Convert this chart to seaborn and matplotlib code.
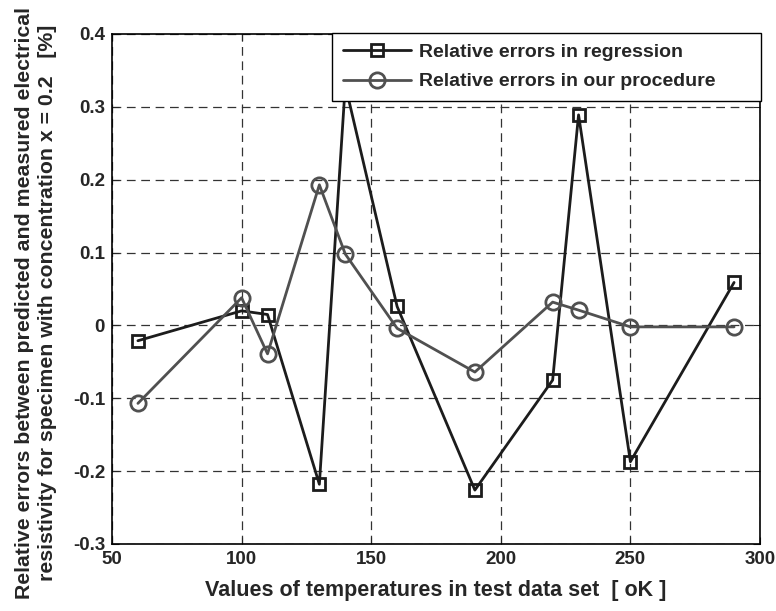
import matplotlib
matplotlib.use("Agg")
import matplotlib.pyplot as plt
import seaborn as sns
import pandas as pd

temps_reg = [60, 100, 110, 130, 140, 160, 190, 220, 230, 250, 290]
err_reg = [-0.021, 0.020, 0.015, -0.218, 0.33, 0.026, -0.226, -0.075, 0.289, -0.187, 0.059]
temps_proc = [60, 100, 110, 130, 140, 160, 190, 220, 230, 250, 290]
err_proc = [-0.107, 0.038, -0.039, 0.193, 0.098, -0.004, -0.064, 0.032, 0.021, -0.002, -0.002]
label_reg = "Relative errors in regression"
label_proc = "Relative errors in our procedure"
x_ticks = [50, 100, 150, 200, 250, 300]
y_ticks = [-0.3, -0.2, -0.1, 0, 0.1, 0.2, 0.3, 0.4]

sns.set_style("white")
plt.rcParams['font.family'] = ['Liberation Sans', 'DejaVu Sans']
plt.rcParams['font.weight'] = 'bold'

fig = plt.figure(figsize=(7.76, 6.11), dpi=100)
ax = fig.add_axes([112/776, 67/611, (760-112)/776, (544-34)/611])

df_reg = pd.DataFrame({"T": temps_reg, "E": err_reg})
df_proc = pd.DataFrame({"T": temps_proc, "E": err_proc})

sns.lineplot(data=df_reg, x="T", y="E", ax=ax, color="#1c1c1c", lw=2,
             marker="s", markersize=9, markerfacecolor="none",
             markeredgecolor="#1c1c1c", markeredgewidth=2, label=label_reg)
sns.lineplot(data=df_proc, x="T", y="E", ax=ax, color="#505050", lw=2,
             marker="o", markersize=11, markerfacecolor="none",
             markeredgecolor="#505050", markeredgewidth=2, label=label_proc)

ax.set_xlim(50, 300)
ax.set_ylim(-0.3, 0.4)
ax.set_xticks(x_ticks)
ax.set_yticks(y_ticks)
ax.set_xticklabels([str(v) for v in x_ticks])
ax.set_yticklabels([f"{v:g}" for v in y_ticks])
ax.grid(True, linestyle=(0, (7, 4.5)), color="#333333", lw=0.9)
for s in ax.spines.values():
    s.set_color("black")
    s.set_linewidth(1.2)
ax.tick_params(axis="both", direction="in", length=5, labelsize=13.5, pad=5,
               top=True, right=True, bottom=True, left=True)
for lab in ax.get_xticklabels() + ax.get_yticklabels():
    lab.set_fontweight("bold")

ax.set_xlabel("Values of temperatures in test data set  [ oK ]", fontsize=15.5,
              fontweight="bold", labelpad=9)
ax.set_ylabel("")
fig.text(36/776, 1 - 303/611,
         "Relative errors between predicted and measured electrical\n"
         "resistivity for specimen with concentration x = 0.2   [%]",
         rotation=90, ha="center", va="center", multialignment="center",
         fontsize=15.3, fontweight="bold", linespacing=1.3)

leg = ax.legend(loc="upper left", bbox_to_anchor=(0.3395, 0.8682, 0.662, 0.1343),
                mode="expand", frameon=True,
                fancybox=False, edgecolor="black", framealpha=1,
                prop={"weight": "bold", "size": 14}, handlelength=3.5,
                borderpad=0.55, labelspacing=0.6, handletextpad=0.4,
                borderaxespad=0)
leg.get_frame().set_linewidth(1.0)
leg.set_zorder(10)

fig.savefig("out.png", dpi=100)
